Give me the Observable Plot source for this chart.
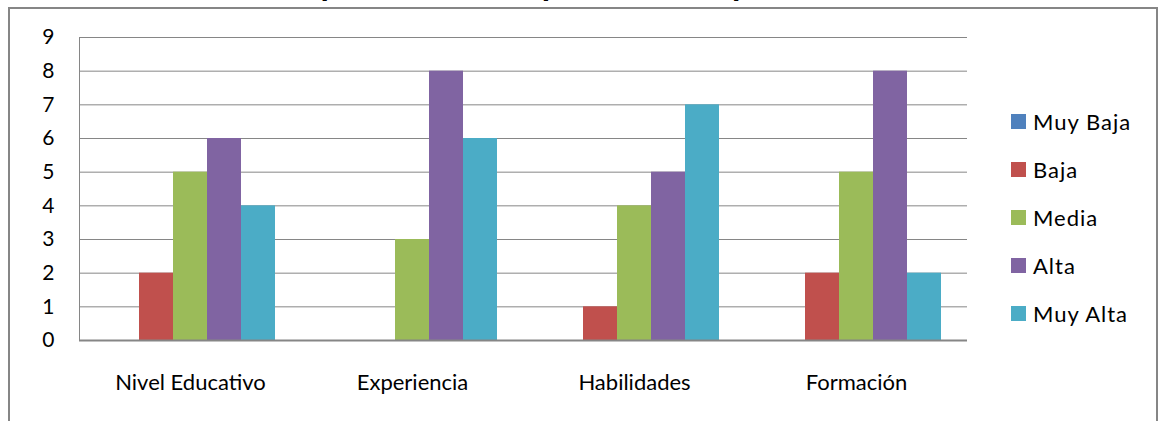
<!DOCTYPE html>
<html>
<head>
<meta charset="utf-8">
<script src="https://cdn.jsdelivr.net/npm/d3@7"></script>
<script src="https://cdn.jsdelivr.net/npm/@observablehq/plot@0.6"></script>
<style>
  body { margin: 0; background: #fff; }
  #wrap { position: relative; width: 1160px; height: 421px; overflow: hidden; font-family: Lato, sans-serif; color: #000; }
  #frame { position: absolute; left: 8px; top: 7px; width: 1150px; height: 440px; border: 2px solid #868686; box-sizing: border-box; }
  #title { position: absolute; left: 0; top: -35px; width: 1170px; text-align: center; font-weight: bold; font-size: 34px; line-height: 34px; white-space: nowrap; }
  #chart { position: absolute; left: 0; top: 0; }
  #legend { position: absolute; left: 1011px; top: 97px; }
  .item { display: flex; align-items: center; height: 48px; font-size: 22px; letter-spacing: 1px; }
  .sw { width: 15px; height: 15px; margin-right: 7px; }
</style>
</head>
<body>
<div id="wrap">
  <div id="frame"></div>
  <div id="title"></div>
  <div id="chart"></div>
  <div id="legend"></div>
</div>
<script>
// Chart text and data
const title = "Gráfico 3: Importancia Competencias Aspectos de la Persona";
const categories = ["Nivel Educativo", "Experiencia", "Habilidades", "Formación"];
const series = ["Muy Baja", "Baja", "Media", "Alta", "Muy Alta"];
const colors = ["#4F81BD", "#C0504D", "#9BBB59", "#8064A2", "#4BACC6"];
const muyBaja = [0, 0, 0, 0];
const baja = [2, 0, 1, 2];
const media = [5, 3, 4, 5];
const alta = [6, 8, 5, 8];
const muyAlta = [4, 6, 7, 2];
const yTicks = [0, 1, 2, 3, 4, 5, 6, 7, 8, 9];

// Long table: one row per category × rating level
const rows = [];
[muyBaja, baja, media, alta, muyAlta].forEach((vals, si) =>
  vals.forEach((v, ci) => rows.push({categoria: categories[ci], nivel: series[si], valor: v}))
);

document.getElementById("title").textContent = title;

const chart = Plot.plot({
  width: 1160,
  height: 421,
  marginLeft: 77,
  marginRight: 192,
  marginTop: 37,
  marginBottom: 81,
  style: {fontFamily: "Lato, sans-serif", fontSize: "20px", color: "#000", background: "transparent"},
  fx: {domain: categories, padding: 0, label: null},
  x: {domain: series, paddingInner: 0, paddingOuter: 0.76, axis: null},
  y: {domain: [0, 9], axis: null, label: null},
  color: {domain: series, range: colors},
  marks: [
    Plot.gridY(yTicks, {stroke: "#868686", strokeOpacity: 1}),
    Plot.barY(rows, {fx: "categoria", x: "nivel", y: "valor", fill: "nivel"}),
    Plot.axisY(yTicks, {tickSize: 0, tickPadding: 25, fontSize: 21, label: null}),
    Plot.axisFx({anchor: "bottom", tickSize: 0, tickPadding: 34, fontSize: 22, label: null,
                 style: "letter-spacing: 1.4px"}),
    Plot.frame({anchor: "left", facetAnchor: "left", stroke: "#868686"}),
    Plot.ruleY([0], {stroke: "#868686", strokeWidth: 2})
  ]
});
document.getElementById("chart").appendChild(chart);

// Vertical legend on the right
const legend = document.getElementById("legend");
series.forEach((s, i) => {
  const item = document.createElement("div");
  item.className = "item";
  const sw = document.createElement("span");
  sw.className = "sw";
  sw.style.background = colors[i];
  const label = document.createElement("span");
  label.textContent = s;
  item.appendChild(sw);
  item.appendChild(label);
  legend.appendChild(item);
});
</script>
</body>
</html>
